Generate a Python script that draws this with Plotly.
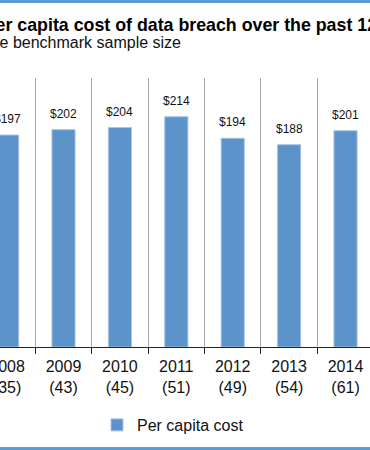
import plotly.graph_objects as go

years = ["2008", "2009", "2010", "2011", "2012", "2013", "2014"]
sample_sizes = [35, 43, 45, 51, 49, 54, 61]
per_capita_cost = [197, 202, 204, 214, 194, 188, 201]

W, H = 370, 450
PLOT_TOP, PLOT_BOTTOM = 78, 347
PH = PLOT_BOTTOM - PLOT_TOP


def py(p):
    """pixel row -> paper y"""
    return (PLOT_BOTTOM - p) / PH


def px(p):
    return p / W


cats = [f"{y}<br>({n})" for y, n in zip(years, sample_sizes)]
BLUE = "#5B93CA"
FONT = "Arial, Liberation Sans, sans-serif"

fig = go.Figure()
fig.add_trace(go.Bar(
    x=cats, y=per_capita_cost, name="Per capita cost",
    marker=dict(color=BLUE, line=dict(color="#A8C3E3", width=1)),
))

annotations = []
for c, v in zip(cats, per_capita_cost):
    annotations.append(dict(x=c, y=v, xref="x", yref="y", text=f"${v}",
                            showarrow=False, yanchor="middle", yshift=16,
                            font=dict(size=12, color="#111", family=FONT)))

annotations.append(dict(
    xref="paper", yref="paper", x=px(-126.5), y=py(25), xanchor="left", yanchor="middle",
    text="<b>The average per capita cost of data breach over the past 12 years</b>",
    showarrow=False, font=dict(size=17.8, color="#000", family=FONT)))
annotations.append(dict(
    xref="paper", yref="paper", x=px(183), y=py(43), xanchor="right", yanchor="middle",
    text="Bracketed number defines the benchmark sample size",
    showarrow=False, font=dict(size=16, color="#111", family=FONT)))

shapes = [
    dict(type="rect", xref="paper", yref="paper", x0=0, x1=1, y0=py(3), y1=py(0),
         fillcolor="#5B9BD5", line=dict(width=0), layer="above"),
    dict(type="rect", xref="paper", yref="paper", x0=0, x1=1, y0=py(450), y1=py(447),
         fillcolor="#5B9BD5", line=dict(width=0), layer="above"),
]

fig.update_layout(
    width=W, height=H,
    margin=dict(l=0, r=0, t=PLOT_TOP, b=H - PLOT_BOTTOM, pad=0, autoexpand=False),
    paper_bgcolor="white", plot_bgcolor="white",
    bargap=0.59,
    font=dict(family=FONT, color="#111"),
    annotations=annotations, shapes=shapes,
    showlegend=True,
    legend=dict(orientation="h", x=px(173), xanchor="center", y=py(425), yanchor="middle",
                font=dict(size=16, color="#111", family=FONT)),
    xaxis=dict(range=[-0.126, 6.434], tickson="boundaries", showgrid=True,
               gridcolor="#A6A6A6", gridwidth=1, showline=True, linecolor="#222",
               linewidth=1, ticks="outside", ticklen=6, tickcolor="#222",
               ticklabelstandoff=5, automargin=False,
               tickfont=dict(size=16, color="#111", family=FONT), fixedrange=True),
    yaxis=dict(range=[0, 250], visible=False, showgrid=False, fixedrange=True,
               automargin=False),
)

fig.write_html("out.html", config={"displayModeBar": False},
               post_script="document.body.style.margin='0';document.body.style.overflow='hidden';window.scrollTo(0,0);")
